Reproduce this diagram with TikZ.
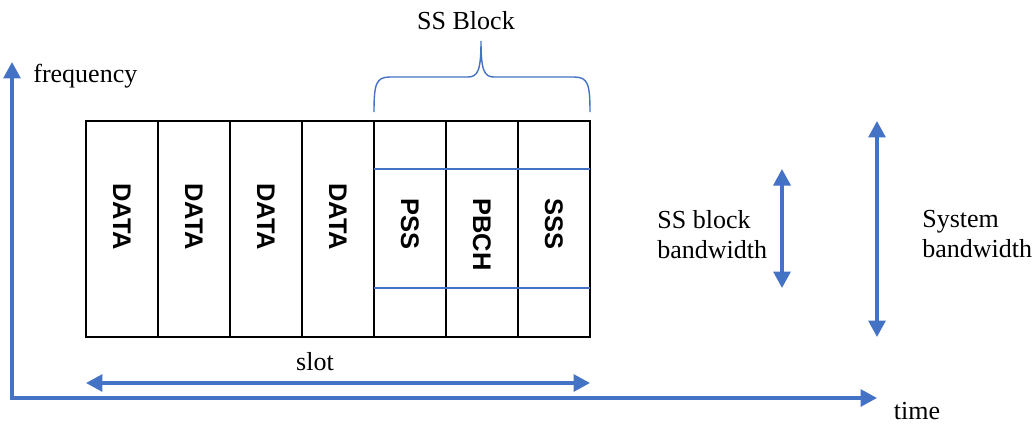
\documentclass[tikz,border=0pt]{standalone}
\usepackage{fontspec}
\setmainfont{Liberation Serif}
\newfontfamily\cellfont{Liberation Sans}
\usetikzlibrary{calc, positioning}
\usetikzlibrary{arrows.meta}
\definecolor{axisblue}{HTML}{4472C4}

\tikzset{
  cellbox/.style={draw=black,line width=1.1pt},
  cellname/.style={font=\cellfont\bfseries\fontsize{14.5}{17}\selectfont,rotate=-90,anchor=west,inner sep=0pt},
  plaintext/.style={font=\fontsize{14.8}{17}\selectfont,inner sep=0pt},
  bothways/.style={axisblue,line width=1.9pt,{Triangle[length=0.33cm,width=0.34cm]}-{Triangle[length=0.33cm,width=0.34cm]}}
}

\begin{document}
\begin{tikzpicture}[x=0.02cm,y=-0.02cm,line join=miter]
\path[use as bounding box] (0,0) rectangle (1035,423);

\coordinate (origin) at (12,398);
\coordinate (freqtip) at (12,62);
\coordinate (timetip) at (877,398);
\coordinate (slotL) at (86,383);
\coordinate (slotR) at (590,383);
\coordinate (ssbwT) at (782,169);
\coordinate (ssbwB) at (782,288);
\coordinate (sysbwT) at (877,121);
\coordinate (sysbwB) at (877,337);

% axes
\draw[bothways] (freqtip) -- (origin) -- (timetip);
\node[plaintext,anchor=west] (freq) at (33,76) {frequency};
\node[plaintext] (time) at (917,411) {time};

% slot cells
\foreach \i/\name/\ytop in {0/DATA/183,1/DATA/183,2/DATA/183,3/DATA/183,4/PSS/198,5/PBCH/198,6/SSS/198}{
  \draw[cellbox] (86+72*\i,121) rectangle ++(72,216);
  \node[cellname] (cell\i) at (122+72*\i,\ytop) {\name};
}
\draw[axisblue,line width=0.6pt] (374,169) -- (590,169);
\draw[axisblue,line width=0.6pt] (374,288) -- (590,288);

% brace over SS block
\draw[axisblue,line width=0.8pt] (374,112) .. controls (374,84) and (376,77) .. (390,77)
  -- (468,77) .. controls (478,77) and (481,70) .. (481,41)
  .. controls (481,70) and (484,77) .. (494,77)
  -- (574,77) .. controls (588,77) and (590,84) .. (590,112);
\node[plaintext] (ssblock) at (466,21) {SS Block};

% bandwidths and slot
\draw[bothways] (slotL) -- (slotR);
\node[plaintext] (slot) at (315,362) {slot};
\draw[bothways] (ssbwT) -- (ssbwB);
\node[plaintext,anchor=west,align=left] (ssbw) at (657,235) {SS block\\bandwidth};
\draw[bothways] (sysbwT) -- (sysbwB);
\node[plaintext,anchor=west,align=left] (sysbw) at (922,234) {System\\bandwidth};
\end{tikzpicture}
\end{document}
